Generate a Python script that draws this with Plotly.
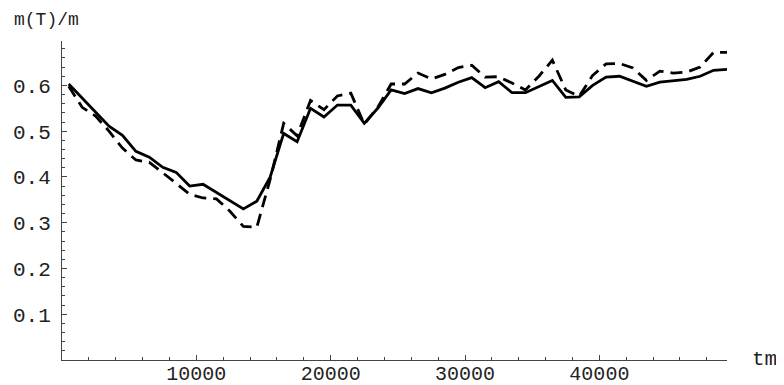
import plotly.graph_objects as go

# time values (tm)
tm = [500 + 1000 * k for k in range(50)]

# solid curve m(T)/m
solid = [0.603, 0.572, 0.541, 0.511, 0.491, 0.456, 0.443, 0.421, 0.410, 0.380,
         0.384, 0.366, 0.348, 0.330, 0.347, 0.400, 0.495, 0.477, 0.550, 0.531,
         0.557, 0.557, 0.517, 0.550, 0.590, 0.582, 0.593, 0.584, 0.594, 0.607,
         0.617, 0.595, 0.608, 0.584, 0.584, 0.598, 0.611, 0.574, 0.575, 0.600,
         0.618, 0.620, 0.609, 0.598, 0.607, 0.610, 0.613, 0.620, 0.633, 0.635]

# dashed curve m(T)/m
dashed = [0.598, 0.552, 0.533, 0.500, 0.463, 0.437, 0.432, 0.410, 0.386, 0.362,
          0.354, 0.352, 0.325, 0.292, 0.290, 0.395, 0.517, 0.490, 0.567, 0.547,
          0.577, 0.583, 0.515, 0.552, 0.603, 0.603, 0.627, 0.614, 0.624, 0.639,
          0.644, 0.618, 0.619, 0.605, 0.590, 0.620, 0.655, 0.590, 0.576, 0.622,
          0.647, 0.648, 0.638, 0.611, 0.631, 0.627, 0.629, 0.640, 0.672, 0.672]

y_ticks = [0.1, 0.2, 0.3, 0.4, 0.5, 0.6]
y_labels = ["0.1", "0.2", "0.3", "0.4", "0.5", "0.6"]
x_ticks = [10000, 20000, 30000, 40000]
x_labels = ["10000", "20000", "30000", "40000"]

FONT = "Liberation Mono, Courier New, monospace"

fig = go.Figure()
fig.add_trace(go.Scatter(x=tm, y=dashed, mode="lines",
                         line=dict(color="black", width=2.8, dash="12px,7px"),
                         showlegend=False))
fig.add_trace(go.Scatter(x=tm, y=solid, mode="lines",
                         line=dict(color="black", width=2.8),
                         showlegend=False))

axis_common = dict(showgrid=False, zeroline=False, showline=True,
                   linecolor="#444", linewidth=1, ticks="inside",
                   ticklen=5, tickcolor="#444", tickwidth=1)

fig.update_xaxes(range=[0, 49500], tickmode="array", tickvals=x_ticks,
                 ticktext=x_labels, ticklabelstandoff=-5,
                 tickfont=dict(family=FONT, size=20, color="#222"),
                 minor=dict(tickmode="linear", tick0=0, dtick=2000,
                            ticks="inside", ticklen=3, tickcolor="#444"),
                 **axis_common)
fig.update_yaxes(range=[0, 0.697], tickmode="array", tickvals=y_ticks,
                 ticktext=y_labels, ticklabelstandoff=6,
                 tickfont=dict(family=FONT, size=21, color="#222"),
                 minor=dict(tickmode="linear", tick0=0, dtick=0.02,
                            ticks="inside", ticklen=3, tickcolor="#444"),
                 **axis_common)

fig.add_annotation(text="m(T)/m", xref="paper", yref="paper",
                   x=0.0, y=1.0, xshift=-50, yshift=21, xanchor="left",
                   yanchor="middle", showarrow=False,
                   font=dict(family=FONT, size=18, color="#222"))
fig.add_annotation(text="tm", xref="paper", yref="paper",
                   x=1.0, y=0.0, xshift=23, yshift=1, xanchor="left",
                   yanchor="middle", showarrow=False,
                   font=dict(family=FONT, size=21, color="#222"))

# page body has an 8px margin, so the figure is drawn 8px in from the top-left
fig.update_layout(width=776, height=377, plot_bgcolor="white",
                  paper_bgcolor="white",
                  margin=dict(l=54, r=57, t=33, b=25, autoexpand=False))

fig.write_html("out.html")
